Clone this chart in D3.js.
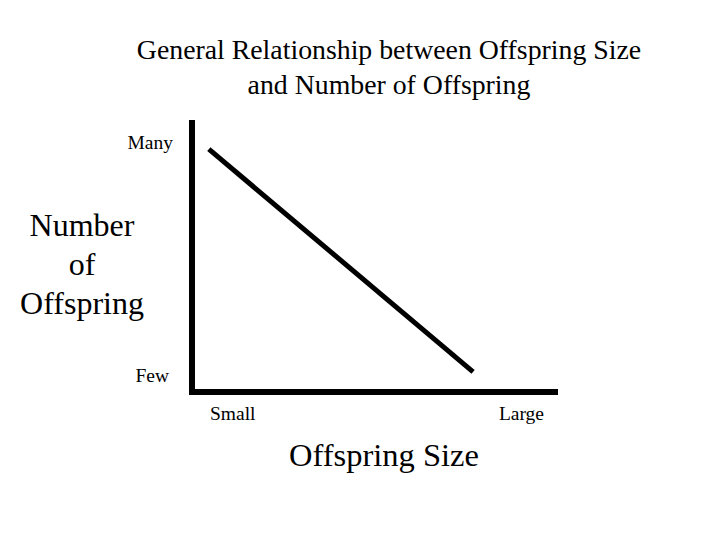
<!DOCTYPE html>
<html>
<head>
<meta charset="utf-8">
<script src="https://cdn.jsdelivr.net/npm/d3@7"></script>
<style>
  body { margin: 0; background: #fff; overflow: hidden; }
  svg { display: block; }
  text { font-family: "Liberation Serif", "Times New Roman", serif; fill: #000; }
</style>
</head>
<body>
<div id="chart"></div>
<script>
// chart text
const titleLines = ['General Relationship between Offspring Size', 'and Number of Offspring']
const yTitleLines = ['Number', 'of', 'Offspring']
const xTitle = 'Offspring Size'
const xTickLabels = ['Small', 'Large']
const yTickLabels = ['Few', 'Many']

// relative scale positions (0 = small / few, 1 = large / many)
const sizeValues = [0.046, 0.768]
const numberValues = [0.893, 0.074]

const width = 720
const height = 540
const margin = { top: 120, right: 162, bottom: 148, left: 192 }
const innerWidth = width - margin.left - margin.right
const innerHeight = height - margin.top - margin.bottom

const svg = d3.select('#chart')
  .append('svg')
  .attr('width', width)
  .attr('height', height)

const main = svg.append('g')
  .attr('transform', `translate(${margin.left}, ${margin.top})`)

const xScale = d3.scaleLinear().domain([0, 1]).range([0, innerWidth])
const yScale = d3.scaleLinear().domain([0, 1]).range([innerHeight, 0])

// title
svg.append('g')
  .selectAll('text')
  .data(titleLines)
  .enter()
  .append('text')
  .attr('x', 389)
  .attr('y', (d, i) => 59 + i * 35)
  .attr('text-anchor', 'middle')
  .attr('font-size', 27.8)
  .text(d => d)

// axes as thick lines
main.append('path')
  .attr('d', `M${xScale(0)},${yScale(1)} L${xScale(0)},${yScale(0)} L${xScale(1)},${yScale(0)}`)
  .attr('fill', 'none')
  .attr('stroke', '#000')
  .attr('stroke-width', 6)

// the relationship line
const points = sizeValues.map((s, i) => [s, numberValues[i]])
main.append('path')
  .datum(points)
  .attr('d', d3.line().x(d => xScale(d[0])).y(d => yScale(d[1])))
  .attr('fill', 'none')
  .attr('stroke', '#000')
  .attr('stroke-width', 5)

// y labels Few / Many
main.selectAll('.ylab')
  .data(yTickLabels)
  .enter()
  .append('text')
  .attr('class', 'ylab')
  .attr('x', (d, i) => i === 0 ? -23 : -19)
  .attr('y', (d, i) => i === 0 ? yScale(0) - 10 : yScale(1) + 29)
  .attr('text-anchor', 'end')
  .attr('font-size', 19.5)
  .text(d => d)

// x labels Small / Large
main.selectAll('.xlab')
  .data(xTickLabels)
  .enter()
  .append('text')
  .attr('class', 'xlab')
  .attr('x', (d, i) => i === 0 ? 18 : xScale(1) - 14)
  .attr('y', yScale(0) + 28)
  .attr('text-anchor', (d, i) => i === 0 ? 'start' : 'end')
  .attr('font-size', 19.5)
  .text(d => d)

// axis titles
svg.append('g')
  .selectAll('text')
  .data(yTitleLines)
  .enter()
  .append('text')
  .attr('x', 82)
  .attr('y', (d, i) => 236 + i * 39)
  .attr('text-anchor', 'middle')
  .attr('font-size', 32)
  .text(d => d)

svg.append('text')
  .attr('x', 384)
  .attr('y', 466)
  .attr('text-anchor', 'middle')
  .attr('font-size', 32.5)
  .text(xTitle)
</script>
</body>
</html>
